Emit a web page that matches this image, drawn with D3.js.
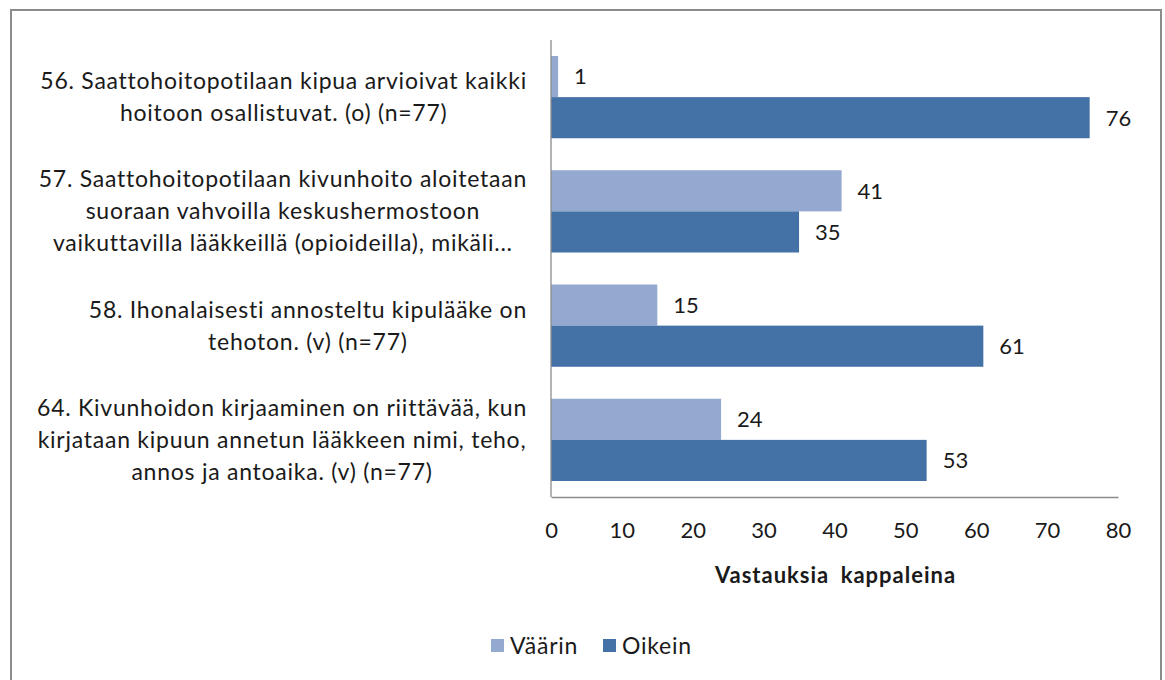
<!DOCTYPE html>
<html>
<head>
<meta charset="utf-8">
<script src="https://cdn.jsdelivr.net/npm/d3@7"></script>
<style>
  html, body { margin: 0; padding: 0; background: #fff; }
  svg { display: block; font-family: Lato, "Open Sans", sans-serif; }
</style>
</head>
<body>
<svg id="chart" width="1165" height="680"></svg>
<script>
// ---- data ----
const categories = [
  ["56. Saattohoitopotilaan kipua arvioivat kaikki", "hoitoon osallistuvat. (o) (n=77)"],
  ["57. Saattohoitopotilaan kivunhoito aloitetaan", "suoraan vahvoilla keskushermostoon", "vaikuttavilla lääkkeillä (opioideilla), mikäli..."],
  ["58. Ihonalaisesti annosteltu kipulääke on", "tehoton. (v) (n=77)"],
  ["64. Kivunhoidon kirjaaminen on riittävää, kun", "kirjataan kipuun annetun lääkkeen nimi, teho,", "annos ja antoaika. (v) (n=77)"]
];
const seriesNames = ["Väärin", "Oikein"];
const vaarin = [1, 41, 15, 24];
const oikein = [76, 35, 61, 53];
const xTicks = [0, 10, 20, 30, 40, 50, 60, 70, 80];
const axisTitle = "Vastauksia kappaleina";
const colors = ["#94A9CF", "#4471A6"];

// ---- layout ----
const svg = d3.select("#chart");
const FONT = "Lato, 'Open Sans', sans-serif";
const plot = { left: 551, right: 1118, top: 40, bottom: 497 };

// outer frame
svg.append("rect")
  .attr("x", 11).attr("y", 10).attr("width", 1150).attr("height", 700)
  .attr("fill", "#fff").attr("stroke", "#8c8c8c").attr("stroke-width", 2);

const x = d3.scaleLinear().domain([0, 80]).range([plot.left, plot.right]);
const idx = categories.map((d, i) => i);
const y0 = d3.scaleBand().domain(idx).range([plot.top, plot.bottom])
  .paddingInner(0.28).paddingOuter(0.14);
const y1 = d3.scaleBand().domain([0, 1]).range([0, y0.bandwidth()]);

const data = idx.map(i => ({ i, vals: [vaarin[i], oikein[i]] }));

const g = svg.append("g");
const groups = g.selectAll("g.cat").data(data).join("g")
  .attr("transform", d => `translate(0,${y0(d.i)})`);

groups.selectAll("rect").data(d => d.vals.map((v, s) => ({ v, s }))).join("rect")
  .attr("x", x(0))
  .attr("y", d => y1(d.s))
  .attr("width", d => x(d.v) - x(0))
  .attr("height", y1.bandwidth())
  .attr("fill", d => colors[d.s]);

groups.selectAll("text.val").data(d => d.vals.map((v, s) => ({ v, s }))).join("text")
  .attr("class", "val")
  .attr("x", d => x(d.v) + 16)
  .attr("y", d => y1(d.s) + y1.bandwidth() / 2)
  .attr("dy", "0.36em")
  .attr("font-size", 22)
  .attr("fill", "#1a1a1a")
  .text(d => d.v);

// x axis
const xAxis = d3.axisBottom(x).tickValues(xTicks).tickSize(0).tickPadding(25);
const ax = svg.append("g").attr("transform", `translate(0,${plot.bottom})`).call(xAxis);
ax.select(".domain").attr("stroke", "#8c8c8c").attr("stroke-width", 1.3);
ax.selectAll("text").attr("font-size", 22).attr("fill", "#1a1a1a")
  .attr("font-family", FONT);

// y axis line
svg.append("line")
  .attr("x1", x(0)).attr("x2", x(0))
  .attr("y1", plot.top).attr("y2", plot.bottom)
  .attr("stroke", "#8c8c8c").attr("stroke-width", 1.3);

// axis title
svg.append("text")
  .attr("x", (plot.left + plot.right) / 2 + 1)
  .attr("y", 583)
  .attr("text-anchor", "middle")
  .attr("font-size", 22).attr("font-weight", "bold")
  .attr("letter-spacing", 1).attr("word-spacing", 5)
  .attr("fill", "#1a1a1a")
  .text(axisTitle);

// category labels: block right-aligned, lines centred within block
const labelRight = 527;
const lineH = 32;
categories.forEach((lines, i) => {
  const tg = svg.append("g");
  const texts = lines.map(l => tg.append("text")
    .attr("font-size", 23).attr("letter-spacing", 0.75)
    .attr("fill", "#1a1a1a").text(l));
  const maxW = d3.max(texts, t => t.node().getComputedTextLength());
  const cx = labelRight - maxW / 2;
  const cy = y0(i) + y0.bandwidth() / 2;
  texts.forEach((t, k) => {
    t.attr("x", cx).attr("text-anchor", "middle")
      .attr("y", cy + (k - (lines.length - 1) / 2) * lineH)
      .attr("dy", "0.35em");
  });
});

// legend
const legendItems = [
  { name: seriesNames[0], x: 491 },
  { name: seriesNames[1], x: 603 }
];
const lg = svg.append("g");
legendItems.forEach((d, s) => {
  lg.append("rect").attr("x", d.x).attr("y", 639).attr("width", 13).attr("height", 13)
    .attr("fill", colors[s]);
  lg.append("text").attr("x", d.x + 19).attr("y", 646).attr("dy", "0.35em")
    .attr("font-size", 23).attr("letter-spacing", 0.75)
    .attr("fill", "#1a1a1a").text(d.name);
});
</script>
</body>
</html>
